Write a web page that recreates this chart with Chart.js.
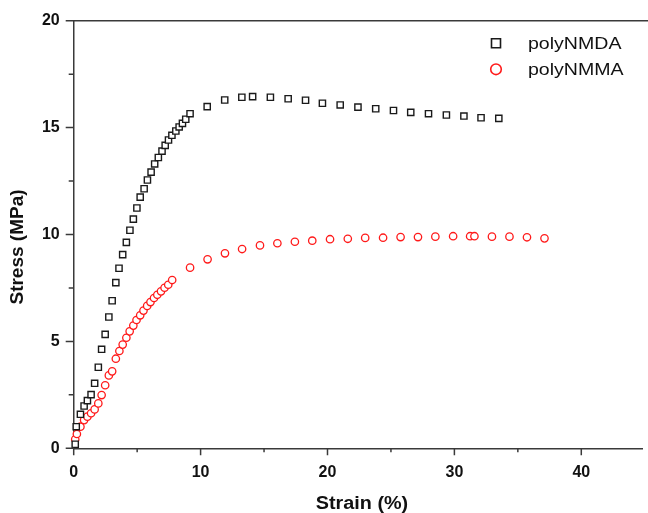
<!DOCTYPE html>
<html>
<head>
<meta charset="utf-8">
<title>Stress-strain</title>
<script src="https://cdn.jsdelivr.net/npm/chart.js@4/dist/chart.umd.min.js"></script>
<style>
  body { margin: 0; background: #fff; }
  #wrap { width: 648px; height: 513px; }
</style>
</head>
<body>
<div id="wrap"><canvas id="curve"></canvas></div>
<script>
  // polyNMDA
  const strainNMDA = [0.12, 0.2, 0.53, 0.82, 1.08, 1.37, 1.65, 1.94, 2.2, 2.48, 2.77, 3.03, 3.32, 3.57, 3.86, 4.15, 4.43, 4.7, 4.98, 5.24, 5.55, 5.81, 6.1, 6.38, 6.67, 6.96, 7.21, 7.47, 7.74, 8.05, 8.31, 8.57, 8.83, 9.17, 10.52, 11.9, 13.25, 14.1, 15.5, 16.9, 18.27, 19.6, 21.0, 22.4, 23.8, 25.2, 26.56, 27.96, 29.37, 30.75, 32.1, 33.5];
  const stressNMDA = [0.19, 1.01, 1.59, 1.98, 2.23, 2.51, 3.04, 3.79, 4.63, 5.33, 6.14, 6.9, 7.75, 8.42, 9.06, 9.63, 10.2, 10.72, 11.24, 11.75, 12.14, 12.55, 12.92, 13.3, 13.6, 13.9, 14.17, 14.42, 14.64, 14.84, 15.03, 15.2, 15.39, 15.65, 15.98, 16.29, 16.42, 16.45, 16.42, 16.35, 16.28, 16.14, 16.06, 15.96, 15.88, 15.8, 15.71, 15.65, 15.59, 15.54, 15.46, 15.43];

  // polyNMMA
  const strainNMMA = [0.12, 0.25, 0.53, 0.82, 1.08, 1.37, 1.65, 1.94, 2.2, 2.48, 2.77, 3.03, 3.32, 3.6, 3.86, 4.15, 4.41, 4.7, 4.95, 5.24, 5.5, 5.79, 6.05, 6.33, 6.59, 6.88, 7.16, 7.45, 7.76, 9.17, 10.55, 11.92, 13.27, 14.68, 16.05, 17.43, 18.8, 20.2, 21.6, 22.97, 24.38, 25.76, 27.13, 28.5, 29.9, 31.24, 31.58, 32.96, 34.34, 35.72, 37.1];
  const stressNMMA = [0.42, 0.67, 1.01, 1.32, 1.48, 1.64, 1.82, 2.1, 2.49, 2.95, 3.41, 3.6, 4.19, 4.55, 4.85, 5.17, 5.47, 5.74, 6.0, 6.22, 6.44, 6.66, 6.84, 7.03, 7.18, 7.34, 7.51, 7.65, 7.87, 8.45, 8.84, 9.12, 9.32, 9.49, 9.59, 9.66, 9.71, 9.78, 9.8, 9.84, 9.85, 9.88, 9.88, 9.9, 9.92, 9.92, 9.92, 9.9, 9.9, 9.87, 9.82];

  const seriesNames = ["polyNMDA", "polyNMMA"];
  const xTicks = [0, 10, 20, 30, 40];
  const yTicks = [0, 5, 10, 15, 20];

  const FONT = "'Liberation Sans', Arial, sans-serif";
  const AXIS = "#3a3a3a";

  const toPoints = (xs, ys) => xs.map((v, i) => ({ x: v, y: ys[i] }));

  // text a little wider than the font's own proportions
  function wideText(ctx, txt, x, y, sx) {
    ctx.save();
    ctx.translate(x, y);
    ctx.scale(sx, 1);
    ctx.fillText(txt, 0, 0);
    ctx.restore();
  }

  // axis frame, minor ticks, titles and the legend
  const decor = {
    id: "decor",
    afterDraw(chart) {
      const { ctx, chartArea: a, scales: { x, y } } = chart;
      ctx.save();
      ctx.strokeStyle = AXIS;
      ctx.lineWidth = 1.5;
      ctx.beginPath();
      ctx.moveTo(a.left, a.top);
      ctx.lineTo(chart.width, a.top);
      for (let v = 0; v <= 20; v += 2.5) {
        const p = y.getPixelForValue(v);
        const len = v % 5 === 0 ? 8 : 5;
        ctx.moveTo(a.left - len, p);
        ctx.lineTo(a.left, p);
      }
      for (let v = 0; v <= 40; v += 5) {
        const p = x.getPixelForValue(v);
        const len = v % 10 === 0 ? 7 : 4;
        ctx.moveTo(p, a.bottom);
        ctx.lineTo(p, a.bottom + len);
      }
      ctx.stroke();

      // axis titles
      ctx.fillStyle = "#111";
      ctx.font = "bold 18px " + FONT;
      ctx.textAlign = "center";
      ctx.textBaseline = "middle";
      wideText(ctx, "Strain (%)", 362, 504, 1.1);
      ctx.save();
      ctx.font = "bold 19px " + FONT;
      ctx.translate(18, 247);
      ctx.rotate(-Math.PI / 2);
      ctx.fillText("Stress (MPa)", 0, 0);
      ctx.restore();

      // legend
      ctx.lineWidth = 1.6;
      ctx.strokeStyle = "#1a1a1a";
      ctx.fillStyle = "#fff";
      ctx.beginPath();
      ctx.rect(491.5, 38.8, 9, 9);
      ctx.fill();
      ctx.stroke();
      ctx.strokeStyle = "#ff1a1a";
      ctx.beginPath();
      ctx.arc(496, 69.3, 5.3, 0, Math.PI * 2);
      ctx.fill();
      ctx.stroke();
      ctx.fillStyle = "#111";
      ctx.font = "17px " + FONT;
      ctx.textAlign = "left";
      wideText(ctx, seriesNames[0], 528, 44, 1.15);
      wideText(ctx, seriesNames[1], 528, 70, 1.15);
      ctx.restore();
    }
  };

  new Chart(document.getElementById("curve"), {
    type: "scatter",
    data: {
      datasets: [
        {
          label: seriesNames[0],
          data: toPoints(strainNMDA, stressNMDA),
          pointStyle: "rect",
          pointRadius: 4.4,
          pointBorderWidth: 1.4,
          borderColor: "#1a1a1a",
          backgroundColor: "#fff",
          clip: false
        },
        {
          label: seriesNames[1],
          data: toPoints(strainNMMA, stressNMMA),
          pointStyle: "circle",
          pointRadius: 3.7,
          pointBorderWidth: 1.3,
          borderColor: "#ff1a1a",
          backgroundColor: "#fff",
          clip: false
        }
      ]
    },
    options: {
      responsive: true,
      maintainAspectRatio: false,
      animation: false,
      events: [],
      layout: { padding: { top: 20.7, left: 0, right: 0, bottom: 0 } },
      plugins: { legend: { display: false }, tooltip: { enabled: false } },
      scales: {
        x: {
          type: "linear",
          min: 0,
          max: 44.8,
          afterFit: s => { s.height = 64.7; s.paddingLeft = 0; s.paddingRight = 0; },
          afterBuildTicks: s => { s.ticks = xTicks.map(v => ({ value: v })); },
          border: { display: true, color: AXIS, width: 1.5 },
          grid: { display: true, drawOnChartArea: false, drawTicks: false, color: "rgba(0,0,0,0)" },
          ticks: {
            padding: 15,
            color: "#111",
            font: { family: FONT, size: 16, weight: "bold" },
            maxRotation: 0
          }
        },
        y: {
          type: "linear",
          min: 0,
          max: 20,
          afterFit: s => { s.width = 73.7; s.paddingTop = 0; s.paddingBottom = 0; },
          afterBuildTicks: s => { s.ticks = yTicks.map(v => ({ value: v })); },
          border: { display: true, color: AXIS, width: 1.5 },
          grid: { display: true, drawOnChartArea: false, drawTicks: false, color: "rgba(0,0,0,0)" },
          ticks: {
            padding: 14,
            color: "#111",
            font: { family: FONT, size: 16, weight: "bold" }
          }
        }
      }
    },
    plugins: [decor]
  });
</script>
</body>
</html>
